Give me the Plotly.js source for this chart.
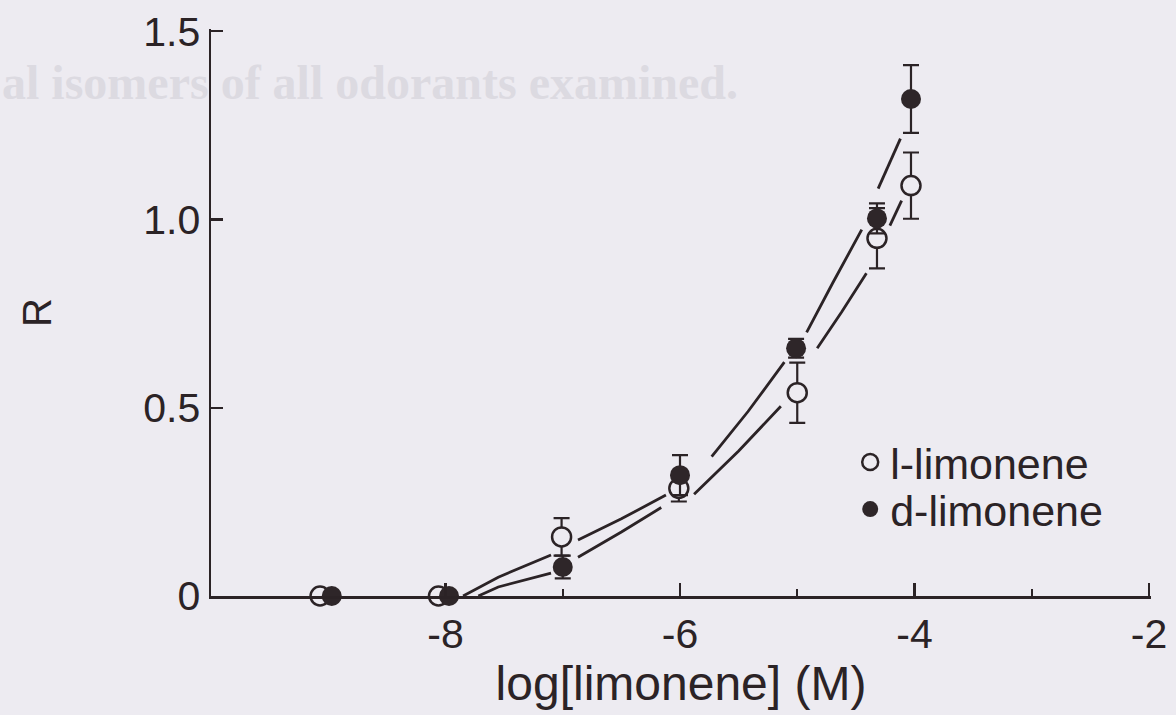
<!DOCTYPE html>
<html>
<head>
<meta charset="utf-8">
<script src="https://cdn.plot.ly/plotly-3.0.1.min.js"></script>
<style>
  html, body { margin: 0; padding: 0; background: #edebf1; }
  #chart { width: 1176px; height: 715px; }
</style>
</head>
<body>
<div id="chart"></div>
<script>
// ---- data ----
const lX   = [-9.07, -8.06, -7.01, -6.01, -5.0, -4.32, -4.03];
const lY   = [0, 0, 0.157, 0.286, 0.54, 0.95, 1.09];
const lErr = [0, 0, 0.05, 0.035, 0.08, 0.08, 0.088];

const dX   = [-8.97, -7.97, -7.0, -6.0, -5.01, -4.32, -4.03];
const dY   = [0, 0, 0.077, 0.321, 0.658, 1.003, 1.32];
const dErr = [0, 0, 0.03, 0.053, 0.025, 0.04, 0.09];

// fitted curves (gaps where the original breaks around markers)
const fitAX = [-7.85, -7.55, -7.10, null, -6.87, -6.50, -6.12, null, -5.73, -5.42, -5.11, null, -4.92, -4.70, -4.45, null, -4.31, -4.12];
const fitAY = [0.0, 0.050, 0.109, null, 0.149, 0.205, 0.268, null, 0.370, 0.490, 0.621, null, 0.700, 0.830, 0.973, null, 1.082, 1.215];
const fitBX = [-7.72, -7.55, -7.10, null, -6.87, -6.50, -6.16, null, -5.88, -5.50, -5.14, null, -4.83, -4.62, -4.41, null, -4.21, -4.11];
const fitBY = [0.0, 0.024, 0.061, null, 0.103, 0.170, 0.235, null, 0.270, 0.385, 0.504, null, 0.658, 0.755, 0.857, null, 0.984, 1.050];

const xTickVals = [-8, -6, -4, -2];
const xTickText = ['-8', '-6', '-4', '-2'];
const xMinorVals = [-7, -5, -3];
const yTickVals = [0, 0.5, 1.0, 1.5];
const yTickText = ['0', '0.5', '1.0', '1.5'];

const seriesNames = ['l-limonene', 'd-limonene'];
const ghostText = 'al isomers of all odorants examined.';

// ---- styling ----
const INK = '#2b2326';
const BG = '#edebf1';
const FONT = 'Liberation Sans, Arial, Helvetica, sans-serif';

const traces = [
  { x: fitAX, y: fitAY, type: 'scatter', mode: 'lines', showlegend: false, hoverinfo: 'skip',
    line: { color: INK, width: 2.8 }, connectgaps: false },
  { x: fitBX, y: fitBY, type: 'scatter', mode: 'lines', showlegend: false, hoverinfo: 'skip',
    line: { color: INK, width: 2.8 }, connectgaps: false },
  { x: lX, y: lY, type: 'scatter', mode: 'markers', name: seriesNames[0], cliponaxis: false, legend: 'legend',
    marker: { symbol: 'circle', size: 19, color: BG, line: { color: INK, width: 2.5 } },
    error_y: { type: 'data', array: lErr, visible: true, color: INK, thickness: 2.2, width: 8 } },
  { x: dX, y: dY, type: 'scatter', mode: 'markers', name: seriesNames[1], cliponaxis: false, legend: 'legend2',
    marker: { symbol: 'circle', size: 20, color: '#2e2629', line: { color: '#2e2629', width: 0 } },
    error_y: { type: 'data', array: dErr, visible: true, color: INK, thickness: 2.2, width: 8 } }
];

const legendBase = {
  xanchor: 'left', yanchor: 'top',
  bgcolor: 'rgba(0,0,0,0)', borderwidth: 0,
  font: { family: FONT, size: 43, color: INK },
  itemsizing: 'trace'
};

const layout = {
  width: 1176, height: 715,
  paper_bgcolor: BG, plot_bgcolor: BG,
  margin: { l: 211, r: 25, t: 29, b: 119, pad: 0 },
  font: { family: FONT, color: INK, size: 40 },
  showlegend: true,
  legend: Object.assign({}, legendBase, { x: 0.68, y: 0.297 }),
  legend2: Object.assign({}, legendBase, { x: 0.68, y: 0.214 }),
  xaxis: {
    range: [-10, -1.983], showgrid: false, zeroline: false,
    showline: true, linecolor: INK, linewidth: 2.5,
    ticks: 'inside', ticklen: 13, tickwidth: 2.2, tickcolor: INK,
    tickmode: 'array', tickvals: xTickVals, ticktext: xTickText,
    tickfont: { family: FONT, size: 41, color: INK },
    minor: { tickmode: 'array', tickvals: xMinorVals, ticks: 'inside', ticklen: 7, tickwidth: 2.2, tickcolor: INK, showgrid: false },
    title: { text: 'log[limonene] (M)', font: { family: FONT, size: 48, color: INK }, standoff: 2 }
  },
  yaxis: {
    range: [0, 1.506], showgrid: false, zeroline: false,
    showline: true, linecolor: INK, linewidth: 2.5,
    ticks: 'inside', ticklen: 12, tickwidth: 2.2, tickcolor: INK,
    tickmode: 'array', tickvals: yTickVals, ticktext: yTickText,
    tickfont: { family: FONT, size: 41, color: INK },
    title: { text: 'R', font: { family: FONT, size: 40, color: INK }, standoff: 80 }
  },
  annotations: [
    { text: ghostText, xref: 'paper', yref: 'paper', x: -0.224, y: 0.905,
      xanchor: 'left', yanchor: 'middle', showarrow: false,
      font: { family: 'Liberation Serif, Times New Roman, serif', size: 48, color: '#dcdae1', weight: 'bold' } }
  ]
};

Plotly.newPlot('chart', traces, layout, { staticPlot: true, displayModeBar: false });
</script>
</body>
</html>
